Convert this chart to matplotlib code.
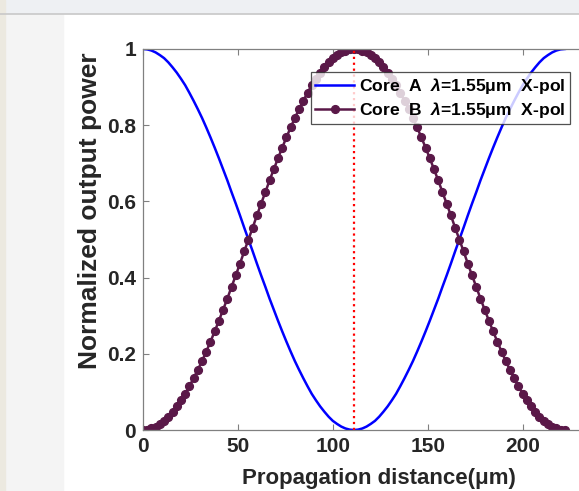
import matplotlib
matplotlib.use("Agg")
import matplotlib.pyplot as plt
from matplotlib.patches import Rectangle
from matplotlib.lines import Line2D

plt.rcParams['font.family'] = ['Liberation Sans', 'DejaVu Sans']
plt.rcParams['font.weight'] = 'bold'
plt.rcParams['mathtext.fontset'] = 'custom'
plt.rcParams['mathtext.it'] = 'Liberation Sans:italic:bold'
plt.rcParams['mathtext.rm'] = 'Liberation Sans:bold'

# propagation distance samples (um)
z = [0, 2.22, 4.44, 6.66, 8.88, 11.1, 13.32, 15.54, 17.76, 19.98, 22.2, 24.42,
     26.64, 28.86, 31.08, 33.3, 35.52, 37.74, 39.96, 42.18, 44.4, 46.62, 48.84,
     51.06, 53.28, 55.5, 57.72, 59.94, 62.16, 64.38, 66.6, 68.82, 71.04, 73.26,
     75.48, 77.7, 79.92, 82.14, 84.36, 86.58, 88.8, 91.02, 93.24, 95.46, 97.68,
     99.9, 102.12, 104.34, 106.56, 108.78, 111.0, 113.22, 115.44, 117.66, 119.88,
     122.1, 124.32, 126.54, 128.76, 130.98, 133.2, 135.42, 137.64, 139.86, 142.08,
     144.3, 146.52, 148.74, 150.96, 153.18, 155.4, 157.62, 159.84, 162.06, 164.28,
     166.5, 168.72, 170.94, 173.16, 175.38, 177.6, 179.82, 182.04, 184.26, 186.48,
     188.7, 190.92, 193.14, 195.36, 197.58, 199.8, 202.02, 204.24, 206.46, 208.68,
     210.9, 213.12, 215.34, 217.56, 219.78, 222.0]

core_a = [1.0, 0.999, 0.996, 0.991, 0.984, 0.976, 0.965, 0.952, 0.938, 0.922, 0.905,
          0.885, 0.864, 0.842, 0.819, 0.794, 0.768, 0.741, 0.713, 0.684, 0.655,
          0.624, 0.594, 0.563, 0.531, 0.5, 0.469, 0.437, 0.406, 0.376, 0.345,
          0.316, 0.287, 0.259, 0.232, 0.206, 0.181, 0.158, 0.136, 0.115, 0.095,
          0.078, 0.062, 0.048, 0.035, 0.024, 0.016, 0.009, 0.004, 0.001, 0.0,
          0.001, 0.004, 0.009, 0.016, 0.024, 0.035, 0.048, 0.062, 0.078, 0.095,
          0.115, 0.136, 0.158, 0.181, 0.206, 0.232, 0.259, 0.287, 0.316, 0.345,
          0.376, 0.406, 0.437, 0.469, 0.5, 0.531, 0.563, 0.594, 0.624, 0.655,
          0.684, 0.713, 0.741, 0.768, 0.794, 0.819, 0.842, 0.864, 0.885, 0.905,
          0.922, 0.938, 0.952, 0.965, 0.976, 0.984, 0.991, 0.996, 0.999, 1.0]

core_b = [0.0, 0.001, 0.004, 0.009, 0.016, 0.024, 0.035, 0.048, 0.062, 0.078, 0.095,
          0.115, 0.136, 0.158, 0.181, 0.206, 0.232, 0.259, 0.287, 0.316, 0.345,
          0.376, 0.406, 0.437, 0.469, 0.5, 0.531, 0.563, 0.594, 0.624, 0.655,
          0.684, 0.713, 0.741, 0.768, 0.794, 0.819, 0.842, 0.864, 0.885, 0.905,
          0.922, 0.938, 0.952, 0.965, 0.976, 0.984, 0.991, 0.996, 0.999, 1.0,
          0.999, 0.996, 0.991, 0.984, 0.976, 0.965, 0.952, 0.938, 0.922, 0.905,
          0.885, 0.864, 0.842, 0.819, 0.794, 0.768, 0.741, 0.713, 0.684, 0.655,
          0.624, 0.594, 0.563, 0.531, 0.5, 0.469, 0.437, 0.406, 0.376, 0.345,
          0.316, 0.287, 0.259, 0.232, 0.206, 0.181, 0.158, 0.136, 0.115, 0.095,
          0.078, 0.062, 0.048, 0.035, 0.024, 0.016, 0.009, 0.004, 0.001, 0.0]

coupling_length = 111
xticks = [0, 50, 100, 150, 200]
yticks = [0, 0.2, 0.4, 0.6, 0.8, 1]
ytick_labels = ['0', '0.2', '0.4', '0.6', '0.8', '1']
labels = [r'Core  A  $\lambda$=1.55μm  X-pol', r'Core  B  $\lambda$=1.55μm  X-pol']

W, H = 579, 491
fig = plt.figure(figsize=(W / 100, H / 100), dpi=100)

# screenshot surroundings
fig.patches.append(Rectangle((0, 1 - 13 / H), 1, 13 / H, transform=fig.transFigure,
                             color='#eef0f3', zorder=0))
fig.lines.append(Line2D([0, 1], [1 - 13.5 / H] * 2, transform=fig.transFigure,
                        color='#c8c8c8', lw=1.2))
fig.patches.append(Rectangle((5 / W, 0), 58 / W, 1 - 14 / H, transform=fig.transFigure,
                             color='#f4f4f4', zorder=0))
fig.patches.append(Rectangle((0, 0), 5 / W, 1, transform=fig.transFigure,
                             color='#ece9e0', zorder=0))

ax = fig.add_axes([143 / W, 61 / H, 475 / W, 381 / H])
ax.plot(z, core_a, color='#0000ff', lw=1.8, label=labels[0])
ax.plot(z, core_b, color='#5a1848', lw=1.8, marker='o', markersize=5.6, label=labels[1])
ax.plot([coupling_length, coupling_length], [0, 1], color='red', ls=':', lw=1.6)

ax.set_xlim(0, 250)
ax.set_ylim(0, 1)
ax.set_xticks(xticks)
ax.set_yticks(yticks)
ax.set_yticklabels(ytick_labels)
ax.tick_params(direction='in', length=4, width=0.8, colors='#808080', labelcolor='#262626',
               labelsize=15, top=True, right=True)
ax.tick_params(axis='x', pad=5)
ax.tick_params(axis='y', pad=5)
for s in ax.spines.values():
    s.set_color('#808080')
    s.set_linewidth(0.9)

ax.set_xlabel('Propagation distance(μm)', fontsize=16, fontweight='bold', color='#262626')
ax.set_ylabel('Normalized output power', fontsize=19, fontweight='bold', color='#262626')
ax.xaxis.set_label_coords(0.497, -0.1)
ax.yaxis.set_label_coords(-0.086, 0.575)

leg = ax.legend(loc='upper left', bbox_to_anchor=(168 / 475, 1 - 23 / 381),
                prop={'weight': 'bold', 'size': 12.6}, frameon=True, fancybox=False,
                borderpad=0.25, handlelength=2.2, handletextpad=0.3, labelspacing=0.2,
                borderaxespad=0)
leg.get_frame().set_edgecolor('#262626')
leg.get_frame().set_linewidth(0.9)

fig.savefig('out.png', dpi=100)
